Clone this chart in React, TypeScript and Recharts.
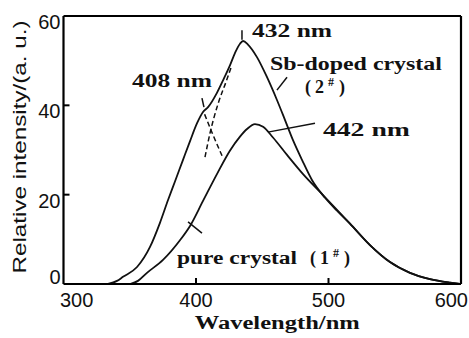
import React from 'react';
import { ComposedChart, Line, Scatter, XAxis, YAxis, Label, ReferenceLine } from 'recharts';

// Sb-doped crystal (2#)
const dopedWavelength = [333.6, 340.4, 344.9, 355.5, 365.3, 372.8, 378.9, 384.2, 390.2, 395.5, 400.8, 405.3, 409.1, 415.8, 420.4, 425.7, 429.4, 433.2, 435.5, 439.2, 446.0, 453.6, 461.1, 467.2, 473.2, 480.0, 487.5, 497.4, 506.4, 516.2, 531.3, 546.4, 561.5, 576.6, 591.7, 599.2];
const dopedIntensity = [0, 0.7, 1.6, 3.8, 8.3, 13.7, 18.8, 23.0, 27.8, 32.0, 36.0, 38.5, 39.6, 42.8, 45.6, 49.0, 51.7, 53.8, 54.4, 53.6, 50.8, 46.3, 41.2, 36.7, 32.2, 27.8, 23.3, 19.3, 16.4, 13.5, 8.7, 4.9, 2.5, 1.1, 0.3, 0];

// pure crystal (1#)
const pureWavelength = [350.2, 356.2, 363.0, 375.1, 387.9, 395.5, 405.3, 415.8, 425.7, 433.2, 438.5, 444.5, 450.6, 458.1, 468.7, 480.8, 493.6, 506.4, 516.2, 531.3, 546.4, 561.5, 576.6, 591.7, 599.2];
const pureIntensity = [0, 0.7, 2.5, 5.4, 9.8, 13.0, 18.6, 24.6, 29.9, 33.0, 34.7, 35.8, 35.2, 32.8, 28.9, 24.6, 20.6, 16.6, 13.5, 8.7, 4.9, 2.5, 1.1, 0.3, 0];

// dashed deconvolution guides
const dash408Wavelength = [406.5, 412.8, 420.4];
const dash408Intensity = [38.0, 33.4, 28.2];
const dash432Wavelength = [406.8, 410.6, 416.6, 422.6, 426.4];
const dash432Intensity = [28.4, 33.8, 40.3, 45.2, 48.4];

// pointer lines
const pointerStartWavelength = [434.7, 404.5, 468.7, 454.3, 394.0];
const pointerStartIntensity = [56.8, 41.6, 46.3, 34.0, 13.9];
const pointerEndWavelength = [434.7, 406.0, 461.1, 489.8, 404.5];
const pointerEndIntensity = [54.7, 39.6, 43.4, 36.0, 11.4];

// annotations
const annotationText = ['432 nm', '408 nm', 'Sb-doped crystal', '(2#)', '442 nm', 'pure crystal', '(1#)'];
const annotationWavelength = [442.3, 351.7, 455.8, 482.3, 495.8, 385.7, 486.0];
const annotationIntensity = [55.3, 44.1, 47.9, 42.8, 33.1, 4.5, 4.5];
const annotationWidth = [80, 80, 172, 0, 87, 120, 0];

const xTicks = [300, 400, 500, 600];
const yTicks = [0, 20, 40, 60];

const toPts = (xs: number[], ys: number[]) => xs.map((x, i) => ({ x, y: ys[i] }));
const dopedData = toPts(dopedWavelength, dopedIntensity);
const pureData = toPts(pureWavelength, pureIntensity);
const dash408 = toPts(dash408Wavelength, dash408Intensity);
const dash432 = toPts(dash432Wavelength, dash432Intensity);
const pointers = pointerStartWavelength.map((x, i) => [
  { x, y: pointerStartIntensity[i] },
  { x: pointerEndWavelength[i], y: pointerEndIntensity[i] },
]);
const annotations = annotationText.map((t, i) => ({
  x: annotationWavelength[i],
  y: annotationIntensity[i],
  text: t,
  w: annotationWidth[i],
}));

const FONT_TICK = '"Liberation Sans", Arial, sans-serif';
const FONT_ANN = '"Liberation Serif", "Times New Roman", serif';

const XTick = (props: any) => {
  const { x, y, payload, index } = props;
  const v = payload.value;
  const last = index === xTicks.length - 1;
  const first = index === 0;
  const anchor = first ? 'start' : last ? 'end' : 'middle';
  const tx = first ? x - 3.5 : last ? x + 7 : x;
  return (
    <g>
      {!first && !last && <line x1={x} y1={y} x2={x} y2={y - 6} stroke="#000" strokeWidth={2} />}
      <text x={tx} y={y + 23} textAnchor={anchor} fontFamily={FONT_TICK} fontSize={20} fill="#111">
        {v}
      </text>
    </g>
  );
};

const YTick = (props: any) => {
  const { x, y, payload } = props;
  const v = payload.value;
  const edge = v === 0 || v === 60;
  return (
    <g>
      {!edge && <line x1={x} y1={y} x2={x + 6} y2={y} stroke="#000" strokeWidth={2} />}
      <text x={x - 3} y={y + (v === 0 ? -7 : 6)} dominantBaseline="central" textAnchor="end" fontFamily={FONT_TICK} fontSize={20} fill="#111">
        {v}
      </text>
    </g>
  );
};

const renderAnnotation = (props: any) => {
  const { cx, cy, payload } = props;
  const text: string = payload.text;
  if (text.includes('#')) {
    const inner = text.slice(1, text.indexOf('#'));
    return (
      <text x={cx} y={cy} fontFamily={FONT_ANN} fontWeight="bold" fontSize={18} fill="#111">
        <tspan>(</tspan>
        <tspan dx={4}>{inner}</tspan>
        <tspan dx={4} dy={-7} fontSize={12}>#</tspan>
        <tspan dx={5} dy={7}>)</tspan>
      </text>
    );
  }
  return (
    <text x={cx} y={cy} fontFamily={FONT_ANN} fontWeight="bold" fontSize={18} fill="#111" textLength={payload.w} lengthAdjust="spacingAndGlyphs">
      {text}
    </text>
  );
};

const YTitle = (props: any) => {
  const vb = props.viewBox;
  const cx = vb.x + 17;
  const cy = vb.y + vb.height / 2 - 3;
  return (
    <text x={cx} y={cy} transform={`rotate(-90 ${cx} ${cy})`} textAnchor="middle" fontFamily={FONT_TICK} fontSize={18} fill="#111" textLength={253} lengthAdjust="spacingAndGlyphs">
      Relative intensity/(a. u.)
    </text>
  );
};

const XTitle = (props: any) => {
  const vb = props.viewBox;
  const cx = vb.x + vb.width / 2 + 15;
  const cy = vb.y + 45;
  return (
    <text x={cx} y={cy} textAnchor="middle" fontFamily={FONT_ANN} fontWeight="bold" fontSize={18} fill="#111" textLength={165} lengthAdjust="spacingAndGlyphs">
      Wavelength/nm
    </text>
  );
};

export default function App() {
  return (
    <div style={{ position: 'absolute', left: 0, top: 0, width: 469, height: 338, overflow: 'hidden', background: '#fff' }}>
      <ComposedChart width={469} height={338} margin={{ top: 16, right: 8, bottom: 0, left: 8.5 }}>
        <XAxis
          dataKey="x"
          type="number"
          domain={[300, 600]}
          ticks={xTicks}
          allowDataOverflow
          height={54}
          axisLine={{ stroke: '#000', strokeWidth: 2.2 }}
          tickLine={false}
          tickSize={0}
          tickMargin={0}
          tick={<XTick />}
          interval={0}
        >
          <Label content={<XTitle />} />
        </XAxis>
        <YAxis
          dataKey="y"
          type="number"
          domain={[0, 60]}
          ticks={yTicks}
          allowDataOverflow
          width={55}
          axisLine={{ stroke: '#000', strokeWidth: 2.2 }}
          tickLine={false}
          tickSize={0}
          tickMargin={0}
          tick={<YTick />}
          interval={0}
        >
          <Label content={<YTitle />} />
        </YAxis>
        <ReferenceLine y={60} stroke="#000" strokeWidth={2.2} />
        <ReferenceLine x={600} stroke="#000" strokeWidth={2.2} />
        <Line data={dopedData} dataKey="y" type="monotone" stroke="#111" strokeWidth={1.8} dot={false} isAnimationActive={false} />
        <Line data={pureData} dataKey="y" type="monotone" stroke="#111" strokeWidth={1.8} dot={false} isAnimationActive={false} />
        <Line data={dash408} dataKey="y" type="monotone" stroke="#111" strokeWidth={1.5} strokeDasharray="5 3" dot={false} isAnimationActive={false} />
        <Line data={dash432} dataKey="y" type="monotone" stroke="#111" strokeWidth={1.5} strokeDasharray="5 3" dot={false} isAnimationActive={false} />
        {pointers.map((p, i) => (
          <Line key={i} data={p} dataKey="y" type="linear" stroke="#111" strokeWidth={1.5} dot={false} isAnimationActive={false} />
        ))}
        <Scatter data={annotations} dataKey="y" shape={renderAnnotation} isAnimationActive={false} />
      </ComposedChart>
    </div>
  );
}
